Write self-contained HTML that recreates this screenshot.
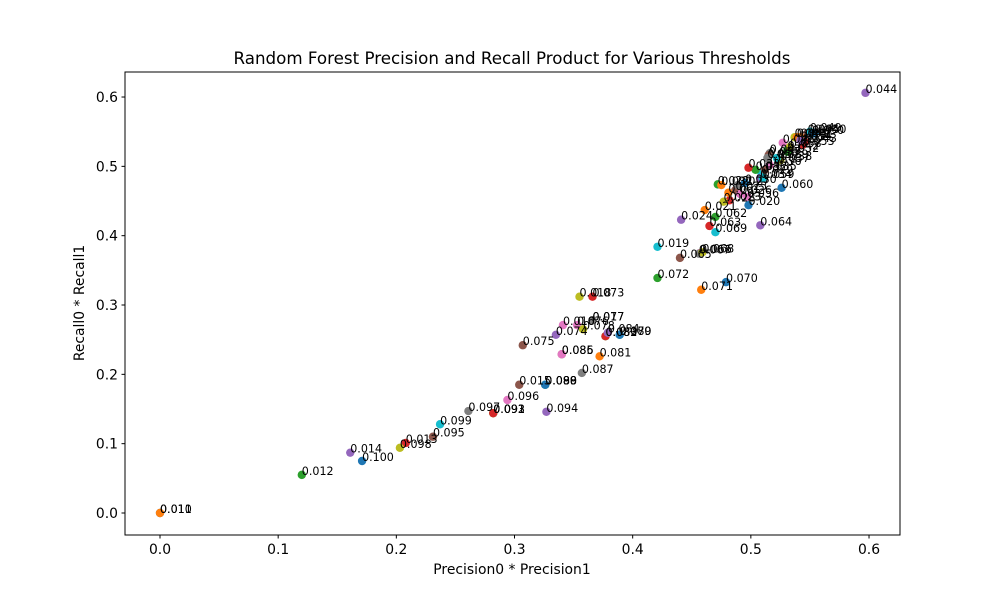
<!DOCTYPE html>
<html><head><meta charset="utf-8"><style>
body{margin:0;background:#fff;}
svg{display:block;font-family:"DejaVu Sans","Liberation Sans",sans-serif;}
</style></head><body>
<svg id="chart" width="1000" height="600" xmlns="http://www.w3.org/2000/svg">
<rect width="1000" height="600" fill="#fff"/>
<text x="512" y="64" font-size="16.7" text-anchor="middle">Random Forest Precision and Recall Product for Various Thresholds</text>
<text x="512" y="574" font-size="13.9" text-anchor="middle">Precision0 * Precision1</text>
<text x="0" y="0" font-size="13.9" text-anchor="middle" transform="translate(84,303) rotate(-90)">Recall0 * Recall1</text>
<g id="axes"></g><g id="marks"></g><g id="labels"></g>
<rect x="125" y="72" width="775" height="463" fill="none" stroke="#000" stroke-width="1"/>
</svg>
<script>
const thresholds=["0.010","0.011","0.012","0.013","0.014","0.015","0.016","0.017","0.018","0.019","0.020","0.021","0.022","0.023","0.024","0.025","0.026","0.027","0.028","0.029","0.030","0.031","0.032","0.033","0.034","0.035","0.036","0.037","0.038","0.039","0.040","0.041","0.042","0.043","0.044","0.045","0.046","0.047","0.048","0.049","0.050","0.051","0.052","0.053","0.054","0.055","0.056","0.057","0.058","0.059","0.060","0.061","0.062","0.063","0.064","0.065","0.066","0.067","0.068","0.069","0.070","0.071","0.072","0.073","0.074","0.075","0.076","0.077","0.078","0.079","0.080","0.081","0.082","0.083","0.084","0.085","0.086","0.087","0.088","0.089","0.090","0.091","0.092","0.093","0.094","0.095","0.096","0.097","0.098","0.099","0.100"];
const precisionProduct=[0,0,0.120,0.208,0.161,0.304,0.341,0.366,0.355,0.421,0.498,0.461,0.472,0.482,0.441,0.487,0.491,0.489,0.477,0.509,0.495,0.475,0.504,0.498,0.508,0.512,0.516,0.523,0.525,0.522,0.554,0.542,0.531,0.546,0.597,0.548,0.527,0.516,0.537,0.550,0.552,0.539,0.531,0.544,0.542,0.515,0.497,0.514,0.533,0.510,0.526,0.481,0.470,0.465,0.508,0.440,0.457,0.456,0.459,0.470,0.479,0.458,0.421,0.366,0.335,0.307,0.353,0.366,0.358,0.389,0.389,0.372,0.377,0.377,0.379,0.340,0.340,0.357,0.326,0.326,0.326,0.282,0.282,0.282,0.327,0.231,0.294,0.261,0.203,0.237,0.171];
const recallProduct=[0,0,0.055,0.101,0.087,0.185,0.271,0.278,0.312,0.384,0.444,0.437,0.474,0.451,0.423,0.466,0.460,0.473,0.449,0.490,0.476,0.473,0.495,0.498,0.483,0.495,0.502,0.506,0.509,0.512,0.548,0.542,0.524,0.535,0.606,0.548,0.534,0.519,0.542,0.550,0.547,0.542,0.521,0.531,0.538,0.516,0.456,0.512,0.528,0.483,0.469,0.462,0.427,0.414,0.415,0.368,0.375,0.374,0.376,0.405,0.333,0.322,0.339,0.312,0.257,0.242,0.271,0.278,0.265,0.257,0.257,0.226,0.255,0.255,0.260,0.229,0.229,0.202,0.185,0.185,0.185,0.144,0.144,0.144,0.146,0.110,0.163,0.147,0.094,0.128,0.075];
const xTicks=["0.0","0.1","0.2","0.3","0.4","0.5","0.6"];
const yTicks=["0.0","0.1","0.2","0.3","0.4","0.5","0.6"];
const palette=["#1f77b4","#ff7f0e","#2ca02c","#d62728","#9467bd","#8c564b","#e377c2","#7f7f7f","#bcbd22","#17becf"];
const NS="http://www.w3.org/2000/svg";
const sx=v=>160+v*1181.7, sy=v=>513-v*693.3;
const axes=document.getElementById('axes'),marks=document.getElementById('marks'),labels=document.getElementById('labels');
function mk(tag,attrs,parent){const e=document.createElementNS(NS,tag);for(const k in attrs)e.setAttribute(k,attrs[k]);parent.appendChild(e);return e;}
xTicks.forEach(t=>{const x=sx(parseFloat(t));
 const l=mk('line',{x1:x,x2:x,y1:535,y2:538.5,stroke:'#000'},axes);
 
 
 const tx=mk('text',{x:x,y:554,'font-size':13.9,'text-anchor':'middle'},axes);tx.textContent=t;
 
 });
yTicks.forEach(t=>{const y=sy(parseFloat(t));
 const l=mk('line',{x1:121.5,x2:125,y1:y,y2:y,stroke:'#000'},axes);
 
 
 const tx=mk('text',{x:118,y:y+5,'font-size':13.9,'text-anchor':'end'},axes);tx.textContent=t;
 
 });
thresholds.forEach((t,i)=>{const x=sx(precisionProduct[i]),y=sy(recallProduct[i]);
 const c=mk('circle',{cx:x,cy:y,r:4.2,fill:palette[i%10]},marks);
 
 
 const tx=mk('text',{x:x,y:y,'font-size':11.1},labels);tx.textContent=t;
 
 });
</script>
</body></html>
